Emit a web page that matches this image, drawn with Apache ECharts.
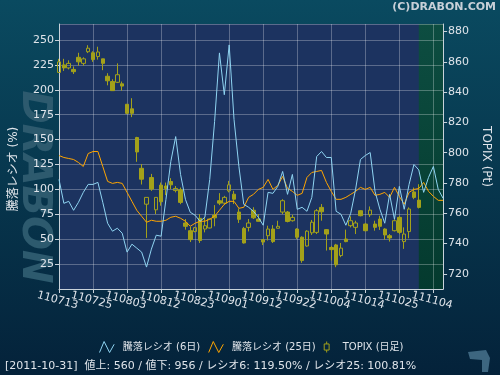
<!DOCTYPE html>
<html>
<head>
<meta charset="utf-8">
<script src="https://cdn.jsdelivr.net/npm/echarts@6/dist/echarts.min.js"></script>
<style>
html, body { margin: 0; padding: 0; background: #052338; }
#main { width: 500px; height: 375px; }
</style>
</head>
<body>
<div id="main"></div>
<script>
// 営業日 (yymmdd)
var dates = [
	'110713', '110714', '110715', '110719', '110720', '110721', '110722',
	'110725', '110726', '110727', '110728', '110729', '110801', '110802',
	'110803', '110804', '110805', '110808', '110809', '110810', '110811',
	'110812', '110815', '110816', '110817', '110818', '110819', '110822',
	'110823', '110824', '110825', '110826', '110829', '110830', '110831',
	'110901', '110902', '110905', '110906', '110907', '110908', '110909',
	'110912', '110913', '110914', '110915', '110916', '110920', '110921',
	'110922', '110926', '110927', '110928', '110929', '110930', '111003',
	'111004', '111005', '111006', '111007', '111011', '111012', '111013',
	'111014', '111017', '111018', '111019', '111020', '111021', '111024',
	'111025', '111026', '111027', '111028', '111031', '111101', '111102',
	'111104', '111107', '111108'
];

// 騰落レシオ (6日)
var ratio6 = [
	110, 86, 88, 79, 87, 97, 105, 105, 107, 87,
	66, 58, 61, 56, 37, 45, 41, 37, 22, 40,
	54, 53, 90, 128, 153, 115, 90, 77, 74, 68,
	72, 110, 168, 237, 195, 245, 170, 123, 85, 82,
	78, 72, 64, 97, 96, 103, 118, 95, 115, 80,
	82, 78, 92, 133, 138, 132, 132, 78, 75, 64,
	76, 100, 130, 134, 137, 98, 80, 66, 95, 70,
	103, 80, 105, 125, 119.5, 97, 112, 123, 100, 91
];

// 騰落レシオ (25日)
var ratio25 = [
	134, 132, 131, 130, 127, 123, 136, 138, 138, 123,
	108, 106, 107, 106, 97, 88, 79, 73, 67, 69,
	68, 68, 69, 72, 73, 71, 68, 63, 66, 68,
	68, 70, 73, 79, 85, 88, 88, 81, 82, 92,
	95, 100, 102, 110, 100, 104, 113, 101, 98, 94,
	96, 112, 117, 118, 119, 107, 98, 90, 90, 92,
	95, 98, 102, 100, 102, 94, 95, 97, 92, 102,
	93, 85, 97, 100, 100.81, 107, 98, 93, 89, 89
];

// TOPIX 日足 [始値, 終値, 安値, 高値]
var topix = [
	[853, 860, 853, 862], [858, 856, 854, 862], [856, 859, 855, 861], [855, 853.5, 852, 857],
	[863, 860, 857.5, 866], [859, 862, 857.5, 863], [866.7, 869, 865.8, 871], [866, 861.5, 860, 867],
	[863.5, 866.5, 861.5, 870], [862, 859, 854.5, 862], [850.5, 847.5, 844.5, 852.5], [847, 841, 841, 848.5],
	[846.5, 851.5, 846, 859], [845.5, 844, 841, 847], [832, 826, 825.5, 832], [829, 826, 823.5, 836],
	[810, 800.5, 794, 810.5], [789.7, 782.5, 779, 792.5], [766, 770.5, 743.7, 770.5], [783.6, 776, 774.8, 786],
	[762.3, 770.5, 759.5, 770.5], [778.6, 767.6, 765, 780.3], [778, 776.4, 772, 780.3], [781, 778.8, 776, 783.2],
	[775, 776.4, 773.8, 778], [775.5, 767.2, 766, 777], [753.6, 751.4, 749.2, 756.2], [748.5, 742.6, 741, 751],
	[748, 750.5, 747.4, 751], [756.7, 742, 740.4, 759.5], [749.6, 751.8, 747.4, 757.3], [750.3, 756.2, 750, 756.5],
	[758.8, 757, 751.4, 765.4], [768.3, 766.7, 765.4, 773.3], [766.7, 770.5, 765.5, 771.5], [774.8, 778.8, 773.8, 781.4],
	[772.6, 769.3, 766.1, 774.8], [760.8, 756, 753.6, 763.2], [750, 740.4, 740, 751], [750.7, 753.6, 748, 756.2],
	[762, 757, 756.2, 764], [756.2, 754.7, 754.7, 759.5], [742.6, 741, 739, 742.8], [745.2, 749.6, 742, 751.8],
	[749.6, 741.3, 740.4, 752.2], [750.1, 751.4, 750, 755.1], [760.8, 768.3, 759.5, 769.3], [760.8, 754.6, 754, 761.5],
	[755.1, 757.3, 754.5, 759], [749.6, 744.2, 743, 750.1], [744.2, 728.8, 727.3, 744.8], [738.4, 748.2, 738, 748.8],
	[747.1, 754.1, 745.7, 755.6], [747.4, 761.7, 746.3, 762.8], [763.9, 761, 755.1, 766.1], [749.2, 746.3, 735.4, 749.6],
	[737.4, 736, 728.8, 738.4], [739.1, 726, 724.4, 739.8], [732.1, 737, 731, 740.4], [743, 741.3, 740.9, 749.2],
	[751.8, 755.1, 750.7, 758], [750.7, 753.6, 746.3, 755.1], [761.7, 758.4, 758, 762], [752.9, 748.5, 748, 753.5],
	[759, 762.1, 757.5, 764.5], [752.9, 750.7, 748.5, 755.1], [756.2, 751.4, 749, 758.4], [749.6, 745.7, 742.6, 750.1],
	[745.2, 743.7, 741.3, 746.3], [748.5, 755.1, 748, 756], [757.3, 747.4, 746.3, 758.4], [741.3, 746.3, 736.5, 750.7],
	[747.9, 762.8, 743.5, 763.9], [774.1, 770.5, 769.3, 777], [768.7, 763.9, 763.2, 779.2]
];

var topixTicks = [720, 740, 760, 780, 800, 820, 840, 860, 880];
var futureRange = ['111031', '111108'];

var FONT = "'DejaVu Sans', 'Noto Sans CJK JP', sans-serif";
var TXT = '#dfe4ea';
var AXIS = '#c9d2da';

// 週ごとの目盛 (7営業日)。ラベルが重なって消されないように2本の軸に交互に振り分ける
function everyWeek(index) {
	return index % 7 === 0;
}
function weekEven(index) {
	return index % 14 === 0;
}
function weekOdd(index) {
	return index % 14 === 7;
}

function dateAxis(show, intervalFn, withLines) {
	return {
		type: 'category',
		data: dates,
		boundaryGap: false,
		position: 'bottom',
		offset: 0,
		z: 2,
		axisLine: { show: withLines, lineStyle: { color: AXIS } },
		axisTick: { show: true, interval: intervalFn, length: 4, lineStyle: { color: AXIS } },
		axisLabel: {
			show: show,
			interval: intervalFn,
			rotate: -15,
			align: 'center',
			verticalAlign: 'top',
			margin: 6,
			color: TXT,
			fontSize: 11,
			fontFamily: FONT
		},
		splitLine: { show: withLines, interval: everyWeek, lineStyle: { color: 'rgba(255,255,255,0.28)' } }
	};
}

var myChart = echarts.init(document.getElementById('main'));

var option = {
	animation: false,
	backgroundColor: new echarts.graphic.LinearGradient(0, 0, 0, 1, [
		{ offset: 0, color: '#0a4a60' },
		{ offset: 1, color: '#04223a' }
	]),
	textStyle: { fontFamily: FONT },
	grid: {
		left: 56, right: 53, top: 24, bottom: 86,
		show: true,
		backgroundColor: '#1c3360',
		borderWidth: 0
	},
	legend: {
		left: 94,
		top: 336,
		itemWidth: 22,
		itemHeight: 11,
		itemGap: 8,
		textStyle: { color: TXT, fontSize: 10, fontFamily: FONT },
		data: [
			{ name: '騰落レシオ (6日)', icon: 'path://M0,12 L5,0 L11,12 L16,3', itemStyle: { color: 'transparent', borderColor: '#8fd4f2', borderWidth: 1 } },
			{ name: '騰落レシオ (25日)', icon: 'path://M0,12 L5,0 L11,12 L16,3', itemStyle: { color: 'transparent', borderColor: '#ffa500', borderWidth: 1 } },
			{ name: 'TOPIX (日足)', icon: 'path://M4,0 L4,4 M0,4 L8,4 L8,14 L0,14 Z M4,14 L4,18', itemStyle: { color: 'transparent', borderColor: '#a3a11a', borderWidth: 1 } }
		]
	},
	xAxis: [
		dateAxis(true, weekEven, true),
		dateAxis(true, weekOdd, false)
	],
	yAxis: [{
		type: 'value',
		min: 0,
		max: 266,
		interval: 25,
		z: 2,
		name: '騰落レシオ (%)',
		nameLocation: 'middle',
		nameGap: 39,
		nameTextStyle: { color: TXT, fontSize: 12, fontFamily: FONT, padding: [0, 25, 0, 0] },
		axisLine: { show: true, lineStyle: { color: AXIS } },
		axisTick: { show: true, length: 4, lineStyle: { color: AXIS } },
		axisLabel: { color: TXT, fontSize: 11, margin: 5, showMinLabel: false, showMaxLabel: false, fontFamily: FONT },
		splitLine: { show: true, lineStyle: { color: 'rgba(255,255,255,0.28)' } }
	}, {
		type: 'value',
		min: 710,
		max: 885,
		z: 2,
		position: 'right',
		name: 'TOPIX (Pt)',
		nameLocation: 'middle',
		nameGap: 32,
		nameRotate: -90,
		nameTextStyle: { color: TXT, fontSize: 12, fontFamily: FONT },
		axisLine: { show: true, lineStyle: { color: AXIS } },
		axisTick: { show: true, length: 4, customValues: topixTicks, lineStyle: { color: AXIS } },
		axisLabel: { color: TXT, fontSize: 11, margin: 5, customValues: topixTicks, fontFamily: FONT },
		splitLine: { show: false }
	}],
	graphic: [{
		type: 'text',
		x: 500 - 4,
		y: 7,
		z: 10,
		style: { text: '(C)DRABON.COM', fill: '#c8d0d8', font: 'bold 11px ' + FONT, textAlign: 'right', textVerticalAlign: 'middle' }
	}, {
		type: 'text',
		x: 33,
		y: 187,
		rotation: -Math.PI / 2,
		z: -10,
		style: { text: 'DRABON', fill: '#2d5a6e', font: 'italic bold 40px ' + FONT, textAlign: 'center', textVerticalAlign: 'middle' }
	}, {
		type: 'text',
		x: 5,
		y: 366,
		style: { text: '[2011-10-31]  値上: 560 / 値下: 956 / レシオ6: 119.50% / レシオ25: 100.81%', fill: TXT, font: '11px ' + FONT, textVerticalAlign: 'middle' }
	}, {
		type: 'polygon',
		z: -5,
		shape: { points: [[468, 352], [486, 350], [490, 358], [488, 372], [482, 372], [482, 360], [470, 359]] },
		style: { fill: '#3d6680' }
	}],
	series: [{
		name: 'future',
		type: 'line',
		data: [],
		z: 1,
		markArea: {
			silent: true,
			itemStyle: {
				color: new echarts.graphic.LinearGradient(0, 0, 0, 1, [
					{ offset: 0, color: '#0d4d41' },
					{ offset: 1, color: '#043a2e' }
				])
			},
			data: [[{ xAxis: futureRange[0] }, { xAxis: futureRange[1] }]]
		}
	}, {
		name: 'TOPIX (日足)',
		type: 'candlestick',
		yAxisIndex: 1,
		z: 3,
		barWidth: 4,
		itemStyle: {
			color: 'rgba(0,0,0,0)',
			color0: '#a3a11a',
			borderColor: '#a3a11a',
			borderColor0: '#a3a11a',
			borderWidth: 1
		},
		data: topix
	}, {
		name: '騰落レシオ (25日)',
		type: 'line',
		z: 4,
		symbol: 'none',
		lineStyle: { color: '#ffa500', width: 1 },
		itemStyle: { color: '#ffa500' },
		data: ratio25
	}, {
		name: '騰落レシオ (6日)',
		type: 'line',
		z: 5,
		symbol: 'none',
		lineStyle: { color: '#8fd4f2', width: 1 },
		itemStyle: { color: '#8fd4f2' },
		data: ratio6
	}]
};

myChart.setOption(option);
</script>
</body>
</html>
